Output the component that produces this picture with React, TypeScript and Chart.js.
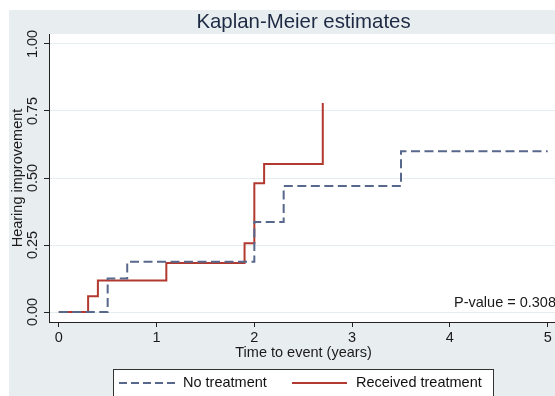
import React, { useEffect, useRef } from "react";
import { Chart, registerables } from "chart.js";

Chart.register(...registerables);

const titleText = "Kaplan-Meier estimates";
const xTitle = "Time to event (years)";
const yTitle = "Hearing improvement";
const pValueText = "P-value = 0.308";

const xTicks = [0, 1, 2, 3, 4, 5];
const yTicks = [0, 0.25, 0.5, 0.75, 1];
const yTickLabels = ["0.00", "0.25", "0.50", "0.75", "1.00"];

const seriesNames = ["No treatment", "Received treatment"];

// step times and cumulative values
const noTreatTimes = [0, 0.5, 0.7, 2.0, 2.3, 3.5, 5.0];
const noTreatValues = [0, 0.125, 0.1875, 0.336, 0.47, 0.6, 0.6];

const treatTimes = [0, 0.3, 0.4, 1.1, 1.9, 2.0, 2.1, 2.7];
const treatValues = [0, 0.059, 0.118, 0.183, 0.257, 0.48, 0.552, 0.78];

const BG = "#e8eef0";
const TEXT = "#1e2a44";
const RED = "#b2392f";
const BLUE = "#58688c";
const FONT = "'Liberation Sans', Arial, sans-serif";
const FS = 14.5;

export default function App() {
  const ref = useRef<HTMLCanvasElement | null>(null);

  useEffect(() => {
    const canvas = ref.current!;
    const decor = {
      id: "decor",
      beforeDraw(chart: any) {
        const ctx = chart.ctx;
        const a = chart.chartArea;
        ctx.save();
        ctx.fillStyle = "#ffffff";
        ctx.fillRect(0, 0, chart.width, chart.height);
        ctx.fillStyle = BG;
        ctx.fillRect(9, 10, chart.width - 9, chart.height - 10);
        ctx.fillStyle = "#ffffff";
        ctx.fillRect(a.left, a.top, a.right - a.left, a.bottom - a.top);
        ctx.restore();
      },
      afterDraw(chart: any) {
        const ctx = chart.ctx;
        const a = chart.chartArea;
        const ys = chart.scales.y;
        ctx.save();
        // title
        ctx.fillStyle = TEXT;
        ctx.font = `20.4px ${FONT}`;
        ctx.textAlign = "center";
        ctx.textBaseline = "middle";
        ctx.fillText(titleText, 303.5, 22);
        // y tick labels (rotated)
        ctx.fillStyle = "#1a1a1a";
        ctx.font = `${FS}px ${FONT}`;
        yTicks.forEach((v, i) => {
          const py = ys.getPixelForValue(v);
          ctx.save();
          ctx.translate(33, py);
          ctx.rotate(-Math.PI / 2);
          ctx.textAlign = "center";
          ctx.textBaseline = "middle";
          ctx.fillText(yTickLabels[i], 0, 0);
          ctx.restore();
        });
        // y title
        ctx.save();
        ctx.translate(18, (a.top + a.bottom) / 2);
        ctx.rotate(-Math.PI / 2);
        ctx.textAlign = "center";
        ctx.textBaseline = "middle";
        ctx.font = `${FS}px ${FONT}`;
        ctx.fillText(yTitle, 0, 0);
        ctx.restore();
        // x title
        ctx.font = `${FS}px ${FONT}`;
        ctx.textAlign = "center";
        ctx.textBaseline = "middle";
        ctx.fillText(xTitle, 303.5, 353);
        // p-value
        ctx.textAlign = "right";
        ctx.fillText(pValueText, 556, 303);
        // legend
        ctx.fillStyle = "#ffffff";
        ctx.fillRect(113, 369, 381, 40);
        ctx.strokeStyle = "#333";
        ctx.lineWidth = 1;
        ctx.strokeRect(113.5, 369.5, 380, 40);
        ctx.lineWidth = 2;
        ctx.strokeStyle = BLUE;
        ctx.setLineDash([8, 4]);
        ctx.beginPath();
        ctx.moveTo(119, 383);
        ctx.lineTo(176, 383);
        ctx.stroke();
        ctx.setLineDash([]);
        ctx.strokeStyle = RED;
        ctx.beginPath();
        ctx.moveTo(292, 383);
        ctx.lineTo(347, 383);
        ctx.stroke();
        ctx.fillStyle = "#111";
        ctx.textAlign = "left";
        ctx.font = `${FS}px ${FONT}`;
        ctx.fillText(seriesNames[0], 183, 383);
        ctx.fillText(seriesNames[1], 356, 383);
        ctx.restore();
      },
    };

    const chart = new Chart(canvas, {
      type: "line",
      data: {
        datasets: [
          {
            label: seriesNames[0],
            data: noTreatTimes.map((t, i) => ({ x: t, y: noTreatValues[i] })),
            borderColor: BLUE,
            borderWidth: 2,
            borderDash: [9, 4.5],
            stepped: "before",
            pointRadius: 0,
            fill: false,
          },
          {
            label: seriesNames[1],
            data: treatTimes.map((t, i) => ({ x: t, y: treatValues[i] })),
            borderColor: RED,
            borderWidth: 2,
            stepped: "before",
            pointRadius: 0,
            fill: false,
          },
        ],
      },
      options: {
        responsive: false,
        animation: false,
        events: [],
        layout: { padding: { left: 9, top: 34, right: 0, bottom: 0 } },
        plugins: { legend: { display: false }, tooltip: { enabled: false }, title: { display: false } },
        scales: {
          x: {
            type: "linear",
            min: -0.1,
            max: 5.075,
            afterBuildTicks: (s: any) => {
              s.ticks = xTicks.map((v) => ({ value: v }));
            },
            afterFit: (s: any) => {
              s.height = 74;
            },
            grid: { drawOnChartArea: false, tickColor: "#222", tickLength: 5, lineWidth: 1 },
            border: { display: true, color: "#222", width: 1 },
            ticks: {
              color: "#1a1a1a",
              font: { size: FS, family: FONT },
              padding: 2,
              maxRotation: 0,
              minRotation: 0,
              callback: (v: any) => String(v),
            },
          },
          y: {
            type: "linear",
            min: -0.0373,
            max: 1.0373,
            afterBuildTicks: (s: any) => {
              s.ticks = yTicks.map((v) => ({ value: v }));
            },
            afterFit: (s: any) => {
              s.width = 40;
            },
            grid: { color: "#e4eef1", tickColor: "#222", tickLength: 5, lineWidth: 1 },
            border: { display: true, color: "#222", width: 1 },
            ticks: { display: false },
          },
        },
      },
      plugins: [decor],
    } as any);
    return () => chart.destroy();
  }, []);

  return (
    <div style={{ position: "fixed", left: 0, top: 0, width: 555, height: 396 }}>
      <canvas ref={ref} width={555} height={396} style={{ display: "block" }} />
    </div>
  );
}
